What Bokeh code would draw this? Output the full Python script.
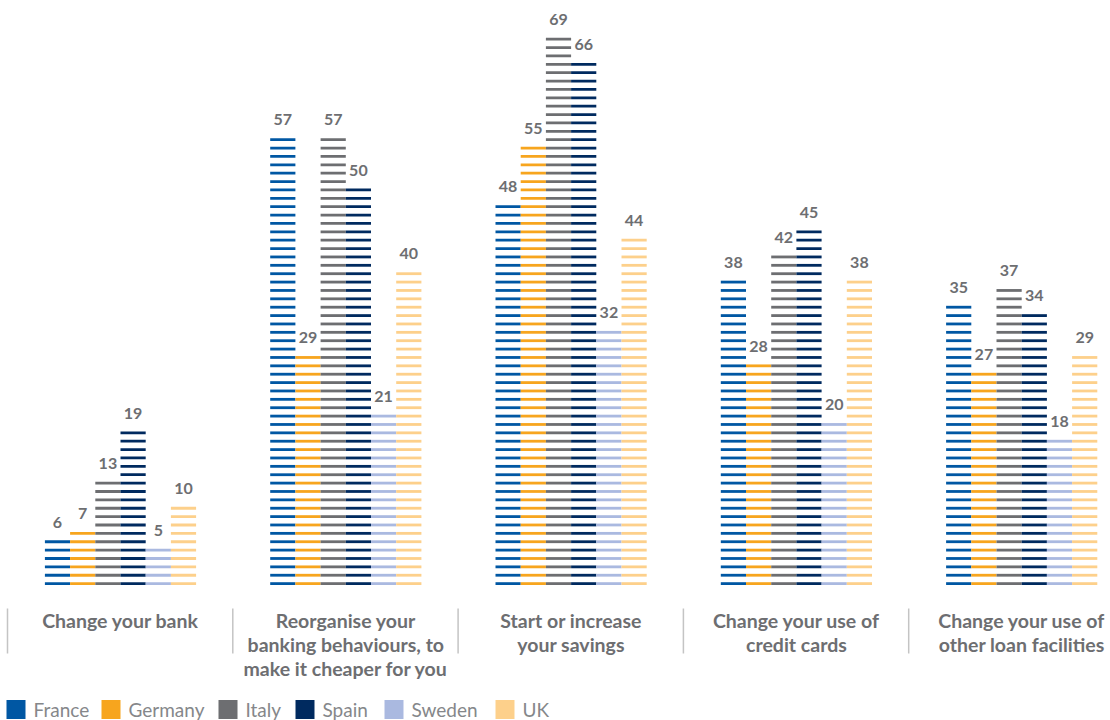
from bokeh.plotting import figure
from bokeh.models import Range1d, ColumnDataSource
from bokeh.core.properties import value
from bokeh.embed import file_html
from bokeh.resources import INLINE

# ---------------- data ----------------
categories = [
    "Change your bank",
    "Reorganise your\nbanking behaviours, to\nmake it cheaper for you",
    "Start or increase\nyour savings",
    "Change your use of\ncredit cards",
    "Change your use of\nother loan facilities",
]
countries = ["France", "Germany", "Italy", "Spain", "Sweden", "UK"]
france = [6, 57, 48, 38, 35]
germany = [7, 29, 55, 28, 27]
italy = [13, 57, 69, 42, 37]
spain = [19, 50, 66, 45, 34]
sweden = [5, 21, 32, 20, 18]
uk = [10, 40, 44, 38, 29]
series = [france, germany, italy, spain, sweden, uk]

# ---------------- style / layout ----------------
colors = ["#0057a3", "#f7a51e", "#6d6e71", "#002a5f", "#aab9e0", "#fdd08b"]
label_grey = "#6d6e71"
legend_grey = "#85878a"
sep_grey = "#c4c4c4"

W, H = 1110, 720
PX_PER_UNIT = 7.89          # vertical scale (px per percentage point)
ZERO_PX = 587.3             # pixel row of value 0 (from top)
STRIPE_STEP = 1.0616        # stripe pattern pitch, in value units
STRIPE_H = 0.355            # stripe thickness, in value units
y_top = ZERO_PX / PX_PER_UNIT
y_bot = y_top - H / PX_PER_UNIT


def py(px):
    """value-axis coordinate of a pixel row (layout helper)"""
    return (ZERO_PX - px) / PX_PER_UNIT


group_x0 = 120.0
group_step = 225.3
bar_w = 25.2

p = figure(width=W, height=H, output_backend="svg", toolbar_location=None,
           x_range=Range1d(0, W), y_range=Range1d(y_bot, y_top),
           min_border=0, min_border_left=0, min_border_right=0,
           min_border_top=0, min_border_bottom=0)
p.axis.visible = False
p.grid.visible = False
p.outline_line_color = None
p.background_fill_color = "white"
p.border_fill_color = "white"

# striped bars: a fixed stripe pattern clipped by each bar's height
xs, ys, cs = [], [], []
lx, ly, lt = [], [], []
for gi in range(len(categories)):
    gc = group_x0 + gi * group_step
    for si, ser in enumerate(series):
        v = ser[gi]
        bx = gc + (si - 2.5) * bar_w
        j = 0
        top = None
        while j * STRIPE_STEP <= v + 0.27:
            yc = (j + 0.5) * STRIPE_STEP
            xs.append(bx)
            ys.append(yc)
            cs.append(colors[si])
            top = yc
            j += 1
        lx.append(bx)
        ly.append(top + 2.5)
        lt.append(str(v))

src = ColumnDataSource(dict(x=xs, y=ys, c=cs))
p.rect(x="x", y="y", width=bar_w, height=STRIPE_H, fill_color="c",
       line_color=None, source=src)

p.text(x=lx, y=ly, text=lt, text_align="center", text_baseline="alphabetic",
       text_font=value("Lato"), text_font_style="bold", text_font_size="16px",
       text_color=label_grey)

# separators and category labels
for gi, cat in enumerate(categories):
    gc = group_x0 + gi * group_step
    sx = gc - 113
    p.segment(x0=[sx], y0=[py(608)], x1=[sx], y1=[py(653)], line_color=sep_grey,
              line_width=1.5)
    lines = cat.split("\n")
    p.text(x=[gc] * len(lines), y=[py(620 + 24 * i) for i in range(len(lines))],
           text=lines, text_align="center", text_baseline="middle",
           text_font=value("Lato"), text_font_style="bold", text_font_size="19.5px",
           text_color=label_grey)

# legend
legend_sq_x = [6, 101, 218, 295, 384, 495]
sq_y = py(709)
p.rect(x=[x + 9.5 for x in legend_sq_x], y=[sq_y] * 6, width=19, height=19,
       width_units="screen", height_units="screen", fill_color=colors,
       line_color=None)
p.text(x=[x + 27 for x in legend_sq_x], y=[sq_y] * 6, text=countries,
       text_align="left", text_baseline="middle", text_font=value("Lato"),
       text_font_size="19px", text_color=legend_grey)

open("out.html", "w").write(file_html(p, INLINE))
